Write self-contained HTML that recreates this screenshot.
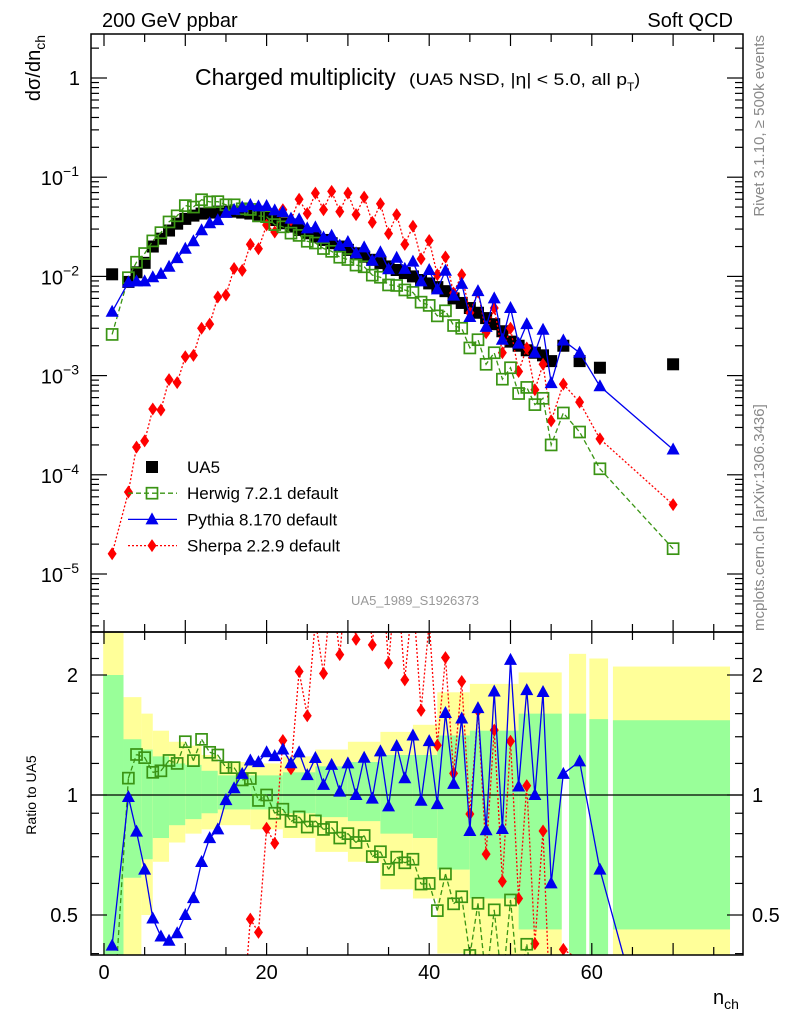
<!DOCTYPE html>
<html><head><meta charset="utf-8"><style>
html,body{margin:0;padding:0;background:#fff;width:786px;height:1024px;overflow:hidden;}
svg{display:block;font-family:"Liberation Sans",Arial,sans-serif;}
</style></head><body>
<svg id="chart" width="786" height="1024" viewBox="0 0 786 1024" xmlns="http://www.w3.org/2000/svg">
<defs>
<clipPath id="clipMain"><rect x="91" y="34" width="652" height="598"/></clipPath>
<clipPath id="clipRatio"><rect x="91" y="632" width="652" height="323"/></clipPath>
</defs>
<g id="bands" clip-path="url(#clipRatio)"></g>
<g id="ticks"></g>
<line x1="91" y1="795" x2="743" y2="795" stroke="#000" stroke-width="1.2"/>
<g id="mainSeries" clip-path="url(#clipMain)"></g>
<g id="ratioSeries" clip-path="url(#clipRatio)"></g>
<rect x="91" y="34" width="652" height="598" fill="none" stroke="#000" stroke-width="1.5"/>
<rect x="91" y="632" width="652" height="323" fill="none" stroke="#000" stroke-width="1.5"/>
<g id="labels" font-size="20"></g>
<text x="102" y="27" font-size="20">200 GeV ppbar</text>
<text x="733" y="27" font-size="20" text-anchor="end">Soft QCD</text>
<text x="195" y="85" font-size="23">Charged multiplicity</text>
<text x="409" y="85" font-size="17"><tspan textLength="218" lengthAdjust="spacingAndGlyphs">(UA5 NSD, |η| &lt; 5.0, all p</tspan><tspan font-size="12" dy="6">T</tspan><tspan dy="-6">)</tspan></text>
<text transform="translate(40,35) rotate(-90)" font-size="20" text-anchor="end">dσ/dn<tspan font-size="14" dy="5">ch</tspan></text>
<text transform="translate(36,795) rotate(-90)" font-size="14" text-anchor="middle">Ratio to UA5</text>
<text x="713" y="1004" font-size="20">n<tspan font-size="14" dy="5">ch</tspan></text>
<text transform="translate(764,35) rotate(-90)" font-size="15" fill="#888" text-anchor="end">Rivet 3.1.10, ≥ 500k events</text>
<text transform="translate(764,631) rotate(-90)" font-size="15" fill="#888" text-anchor="start">mcplots.cern.ch [arXiv:1306.3436]</text>
<text x="415" y="605" font-size="13" fill="#999" text-anchor="middle">UA5_1989_S1926373</text>
<g id="legend" font-size="17"></g>
</svg>
<script>
const nVals=[1,3,4,5,6,7,8,9,10,11,12,13,14,15,16,17,18,19,20,21,22,23,24,25,26,27,28,29,30,31,32,33,34,35,36,37,38,39,40,41,42,43,44,45,46,47,48,49,50,51,52,53,54,55,56.5,58.5,61,70];
const ua5Vals=[.0105,.0088,.011,.0137,.020,.024,.029,.034,.038,.041,.043,.044,.045,.045,.045,.044,.043,.042,.040,.037,.0343,.0318,.0294,.0272,.0252,.0233,.0216,.0200,.0185,.0171,.0158,.0147,.0136,.0126,.0116,.0108,.0100,.0092,.0085,.0078,.0071,.0060,.0054,.0048,.0043,.0038,.0033,.0028,.0022,.0020,.0018,.0017,.0016,.0014,.0020,.0014,.0012,.0013];
const herwigVals=[.0026,.0097,.0139,.0170,.0228,.0276,.0354,.0408,.0517,.050,.0593,.0563,.0567,.0527,.0527,.048,.0473,.0407,.040,.0333,.0316,.0273,.0259,.0226,.0217,.0191,.0179,.0156,.0148,.0130,.0125,.0103,.0098,.0082,.0081,.0073,.0069,.0055,.0051,.0040,.0045,.0032,.0030,.0019,.0023,.0013,.0017,.00092,.0012,.00066,.00076,.00051,.00059,.0002,.00042,.00027,.000115,.000018];
const pythiaVals=[.0044,.0087,.0089,.0089,.0098,.0106,.0125,.0153,.019,.0226,.0292,.0343,.0369,.0437,.0468,.0497,.0525,.0508,.0512,.0463,.0446,.0382,.0376,.0305,.0312,.0247,.0257,.0204,.0222,.0171,.0196,.0144,.0175,.0118,.0154,.0119,.0141,.0089,.0116,.0074,.0114,.0064,.0084,.0039,.0071,.0031,.0060,.0023,.0048,.0021,.0033,.0017,.0029,.00084,.00226,.0017,.00078,.00018];
const sherpaVals=[1.6e-5,6.7e-5,1.9e-4,2.2e-4,4.6e-4,4.5e-4,9.1e-4,8.5e-4,1.55e-3,1.6e-3,3.0e-3,3.3e-3,6.2e-3,6.5e-3,.012,.0115,.021,.019,.033,.028,.047,.037,.060,.043,.069,.047,.072,.045,.069,.042,.063,.035,.054,.027,.042,.021,.032,.015,.023,.0104,.0157,.0068,.0104,.0043,.0070,.0027,.0048,.0017,.0030,.0011,.0019,.00072,.0013,.00035,.00082,.00054,.00023,.00005];
const bandStart=[-0.1,2.4,4.6,6,8,10,12,14,18,22,26,30,34,38,41,45,51,57.2,59.7,62.6];
const bandEnd=[2.4,4.6,6,8,10,12,14,18,22,26,30,34,38,41,45,51,56.3,59.3,62,77];
const yellowHi=[3.0,1.76,1.6,1.45,1.36,1.33,1.26,1.21,1.2,1.25,1.3,1.36,1.44,1.5,1.81,1.9,2.03,2.26,2.2,2.1];
const yellowLo=[0.3,0.3,0.5,0.68,0.76,0.8,0.82,0.84,0.82,0.78,0.72,0.68,0.58,0.55,0.4,0.35,0.3,0.3,0.3,0.3];
const greenHi=[2.0,1.38,1.3,1.25,1.2,1.19,1.15,1.12,1.12,1.14,1.18,1.21,1.26,1.26,1.41,1.45,1.6,1.6,1.55,1.54];
const greenLo=[0.3,0.62,0.69,0.78,0.84,0.87,0.9,0.92,0.92,0.9,0.88,0.86,0.8,0.78,0.65,0.55,0.46,0.3,0.3,0.46];
const xTicks=[0,20,40,60];
const yDecades=[0,-1,-2,-3,-4,-5];
const ratioTickLabels=[0.5,1,2];

const NS='http://www.w3.org/2000/svg';
function X(n){return 104+n*8.13;}
function Y(v){return 78-99.2*Math.log10(v);}
function R(r){return 795-120*Math.log2(r);}
function mk(tag,attrs,parent){const e=document.createElementNS(NS,tag);for(const k in attrs)e.setAttribute(k,attrs[k]);parent.appendChild(e);return e;}
const RTOP=628,RBOT=959;

const bands=document.getElementById('bands');
for(let i=0;i<bandStart.length;i++){
  const x1=X(bandStart[i]),x2=X(bandEnd[i]);
  const yt=Math.max(RTOP,R(yellowHi[i])),ybt=Math.min(RBOT,R(yellowLo[i]));
  const yb=mk('rect',{x:x1,y:yt,width:x2-x1,height:ybt-yt,fill:'#ffff99'},bands);
  
  
  const gt=Math.max(RTOP,R(greenHi[i])),gbt=Math.min(RBOT,R(greenLo[i]));
  const gb=mk('rect',{x:x1,y:gt,width:x2-x1,height:gbt-gt,fill:'#99ff99'},bands);
  
  
}

const tk=document.getElementById('ticks');
function tl(x1,y1,x2,y2){const l=mk('line',{x1:x1,y1:y1,x2:x2,y2:y2,stroke:'#000','stroke-width':1.2},tk);return l;}
for(let n=0;n<=75;n+=5){
  const x=X(n),len=(n%10===0)?12:8;
  tl(x,34,x,34+len);tl(x,632,x,632-len);tl(x,632,x,632+len);tl(x,955,x,955-len);
}
for(const d of yDecades){
  const y=Y(Math.pow(10,d));tl(91,y,91+16,y);tl(743,y,743-16,y);
  for(let m=2;m<=9;m++){const ym=Y(m*Math.pow(10,d-1));if(ym<34||ym>632)continue;tl(91,ym,99,ym);tl(743,ym,735,ym);}
}
for(let m=2;m<=9;m++){const ym=Y(m);if(ym>=34){tl(91,ym,99,ym);tl(743,ym,735,ym);}}
const rMinor=[0.4,0.6,0.7,0.8,0.9,1.2,1.4,1.6,1.8,2.2,2.4];
for(const r of rMinor){const y=R(r);tl(91,y,99,y);tl(743,y,735,y);}
for(const r of ratioTickLabels){const y=R(r);tl(91,y,107,y);tl(743,y,727,y);}

const lb=document.getElementById('labels');
for(const t of xTicks){const e=mk('text',{x:X(t),y:979,'text-anchor':'middle'},lb);e.textContent=t;
  
  }
for(const d of yDecades){
  const y=Y(Math.pow(10,d));
  if(d===0){const e=mk('text',{x:80,y:y+7,'text-anchor':'end'},lb);e.textContent='1';
    
    }
  else{const e=mk('text',{x:79,y:y+8,'text-anchor':'end'},lb);
    const a=mk('tspan',{},e);a.textContent='10';
    const b=mk('tspan',{'font-size':14,dy:-9},e);b.textContent='−'+(-d);
    
    }
}
for(const r of ratioTickLabels){
  const y=R(r)+7;
  const e1=mk('text',{x:78,y:y,'text-anchor':'end'},lb);e1.textContent=String(r);
  
  
  const e2=mk('text',{x:752,y:y},lb);e2.textContent=String(r);
  
  
}

function marker(kind,x,y,parent){
  let e;
  if(kind==='ua5'){e=mk('rect',{x:x-6,y:y-6,width:12,height:12,fill:'#000'},parent);}
  else if(kind==='herwig'){e=mk('rect',{x:x-5.5,y:y-5.5,width:11,height:11,fill:'none',stroke:'#3a9414','stroke-width':1.7},parent);}
  else if(kind==='pythia'){e=mk('polygon',{points:(x)+','+(y-7)+' '+(x+6.5)+','+(y+5)+' '+(x-6.5)+','+(y+5),fill:'#0000ee'},parent);}
  else {e=mk('polygon',{points:x+','+(y-6.5)+' '+(x+4.5)+','+y+' '+x+','+(y+6.5)+' '+(x-4.5)+','+y,fill:'#ff0000'},parent);}
  return e;
}
const styles={herwig:{stroke:'#3a9414',dash:'5,3'},pythia:{stroke:'#0000ee',dash:''},sherpa:{stroke:'#ff0000',dash:'2,2'}};
const mg=document.getElementById('mainSeries'),rg=document.getElementById('ratioSeries');
function clipSeg(x1,y1,x2,y2){
  // clip segment to y in [RTOP,RBOT]
  if((y1<RTOP&&y2<RTOP)||(y1>RBOT&&y2>RBOT))return null;
  function at(yc){const t=(yc-y1)/(y2-y1);return [x1+t*(x2-x1),yc];}
  let a=[x1,y1],b=[x2,y2];
  if(y1<RTOP)a=at(RTOP);else if(y1>RBOT)a=at(RBOT);
  if(y2<RTOP)b=at(RTOP);else if(y2>RBOT)b=at(RBOT);
  return [a,b];
}
function drawSeries(kind,vals){
  const st=styles[kind];
  const pm=nVals.map((n,i)=>X(n).toFixed(1)+','+Y(vals[i]).toFixed(1)).join(' ');
  const l1=mk('polyline',{points:pm,fill:'none',stroke:st.stroke,'stroke-width':1.3,'stroke-dasharray':st.dash},mg);
  
  
  let d='';
  for(let i=0;i<nVals.length-1;i++){
    const s=clipSeg(X(nVals[i]),R(vals[i]/ua5Vals[i]),X(nVals[i+1]),R(vals[i+1]/ua5Vals[i+1]));
    if(s)d+='M'+s[0][0].toFixed(1)+','+s[0][1].toFixed(1)+'L'+s[1][0].toFixed(1)+','+s[1][1].toFixed(1);
  }
  const l2=mk('path',{d:d,fill:'none',stroke:st.stroke,'stroke-width':1.3,'stroke-dasharray':st.dash},rg);
  
  
  nVals.forEach((n,i)=>{
    const m1=marker(kind,X(n),Y(vals[i]),mg);
    
    
    const ry=R(vals[i]/ua5Vals[i]);
    if(ry>=RTOP&&ry<=RBOT){
      const m2=marker(kind,X(n),ry,rg);
      
      
    }
  });
}
nVals.forEach((n,i)=>{
  const m=marker('ua5',X(n),Y(ua5Vals[i]),mg);
  
  
});
drawSeries('sherpa',sherpaVals);
drawSeries('herwig',herwigVals);
drawSeries('pythia',pythiaVals);

const lg=document.getElementById('legend');
const legendItems=[['ua5','UA5'],['herwig','Herwig 7.2.1 default'],['pythia','Pythia 8.170 default'],['sherpa','Sherpa 2.2.9 default']];
legendItems.forEach((it,i)=>{
  const y=467+i*26.2;
  const g=mk('g',{},lg);
  
  
  if(it[0]!=='ua5'){const st=styles[it[0]];mk('line',{x1:128,y1:y,x2:177,y2:y,stroke:st.stroke,'stroke-width':1.3,'stroke-dasharray':st.dash},g);}
  marker(it[0],152,y,g);
  const t=mk('text',{x:187,y:y+6},g);t.textContent=it[1];
});
</script>
</body></html>
